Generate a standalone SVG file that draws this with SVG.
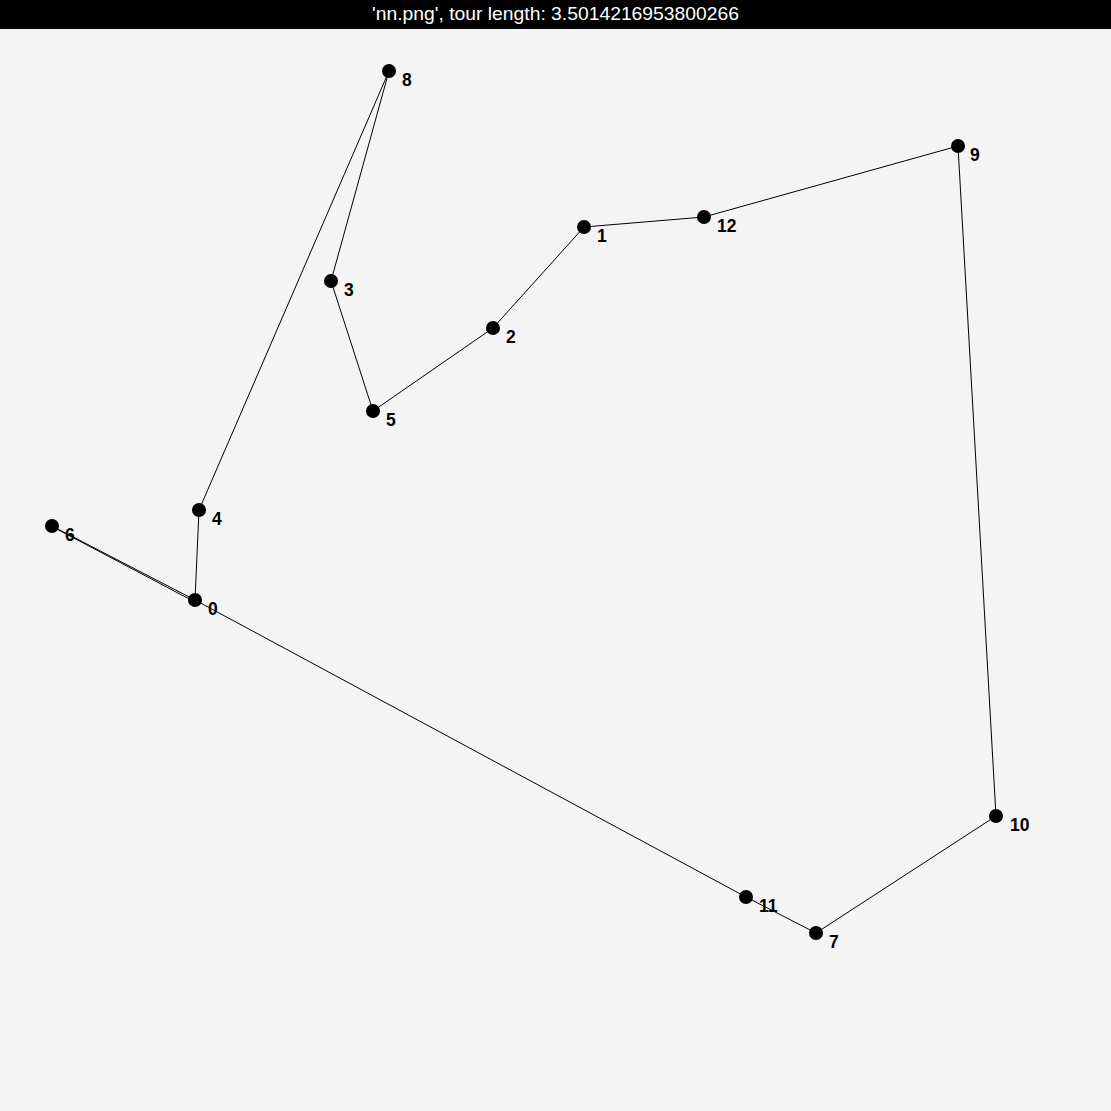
<svg xmlns="http://www.w3.org/2000/svg" width="1111" height="1111" viewBox="0 0 1111 1111">
<style>
.edge{stroke:#000;stroke-width:1;fill:none}
.dot{fill:#000}
.lbl{font-family:"Liberation Sans",Arial,sans-serif;font-size:17.5px;font-weight:bold;fill:#000}
.title{font-family:"Liberation Sans",Arial,sans-serif;font-size:18.5px;fill:#fff;text-anchor:middle}
</style>
<rect x="0" y="0" width="1111" height="1111" fill="#f4f4f4"/>
<rect x="0" y="0" width="1111" height="29" fill="#000"/>
<text class="title" x="555.5" y="20" textLength="367" lengthAdjust="spacingAndGlyphs">'nn.png', tour length: 3.5014216953800266</text>
<g id="connectors">
<line class="edge" x1="52" y1="526" x2="195" y2="600"/>
<line class="edge" x1="52" y1="526.5" x2="195" y2="602"/>
<line class="edge" x1="195" y1="600" x2="199" y2="510"/>
<line class="edge" x1="199" y1="510" x2="389" y2="71"/>
<line class="edge" x1="389" y1="71" x2="331" y2="281"/>
<line class="edge" x1="331" y1="281" x2="373" y2="411"/>
<line class="edge" x1="373" y1="411" x2="493" y2="328"/>
<line class="edge" x1="493" y1="328" x2="584" y2="227"/>
<line class="edge" x1="584" y1="227" x2="704" y2="217"/>
<line class="edge" x1="704" y1="217" x2="958" y2="146"/>
<line class="edge" x1="958" y1="146" x2="996" y2="816"/>
<line class="edge" x1="996" y1="816" x2="816" y2="933"/>
<line class="edge" x1="816" y1="933" x2="746" y2="897"/>
<line class="edge" x1="746" y1="897" x2="195" y2="600"/>
</g>
<g id="node0"><circle class="dot" cx="195" cy="600" r="7"/><text class="lbl" x="208" y="615">0</text></g>
<g id="node1"><circle class="dot" cx="584" cy="227" r="7"/><text class="lbl" x="597" y="242">1</text></g>
<g id="node2"><circle class="dot" cx="493" cy="328" r="7"/><text class="lbl" x="506" y="343">2</text></g>
<g id="node3"><circle class="dot" cx="331" cy="281" r="7"/><text class="lbl" x="344" y="296">3</text></g>
<g id="node4"><circle class="dot" cx="199" cy="510" r="7"/><text class="lbl" x="212" y="525">4</text></g>
<g id="node5"><circle class="dot" cx="373" cy="411" r="7"/><text class="lbl" x="386" y="426">5</text></g>
<g id="node6"><circle class="dot" cx="52" cy="526" r="7"/><text class="lbl" x="65" y="541">6</text></g>
<g id="node7"><circle class="dot" cx="816" cy="933" r="7"/><text class="lbl" x="829" y="948">7</text></g>
<g id="node8"><circle class="dot" cx="389" cy="71" r="7"/><text class="lbl" x="402" y="86">8</text></g>
<g id="node9"><circle class="dot" cx="958" cy="146" r="7"/><text class="lbl" x="970" y="161">9</text></g>
<g id="node10"><circle class="dot" cx="996" cy="816" r="7"/><text class="lbl" x="1010" y="831">10</text></g>
<g id="node11"><circle class="dot" cx="746" cy="897" r="7"/><text class="lbl" x="759" y="912">11</text></g>
<g id="node12"><circle class="dot" cx="704" cy="217" r="7"/><text class="lbl" x="717" y="232">12</text></g>
</svg>
